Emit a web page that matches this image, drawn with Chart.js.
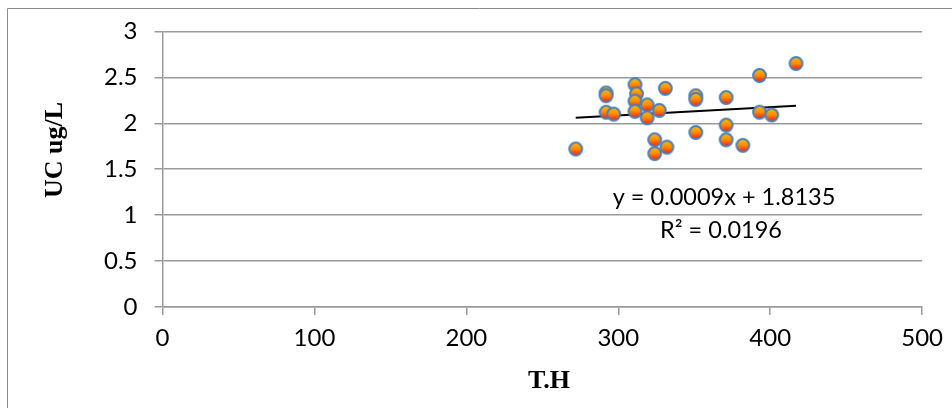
<!DOCTYPE html>
<html>
<head>
<meta charset="utf-8">
<script src="https://cdn.jsdelivr.net/npm/chart.js@4.4.1/dist/chart.umd.min.js"></script>
<style>
  html, body { margin: 0; padding: 0; background: #ffffff; }
  #wrap { width: 952px; height: 408px; position: relative; }
</style>
</head>
<body>
<div id="wrap"><canvas id="c" width="952" height="408"></canvas></div>
<script>
// ---- data ----
const thValues = [272, 292, 292, 292, 297, 311, 312, 311, 311, 319, 319, 324, 324, 327, 331, 332, 351, 351, 351, 371, 371, 371, 382, 393, 393, 401, 417];
const ucValues = [1.72, 2.33, 2.30, 2.12, 2.10, 2.42, 2.32, 2.24, 2.13, 2.20, 2.06, 1.82, 1.67, 2.14, 2.38, 1.74, 2.30, 2.26, 1.90, 2.28, 1.98, 1.82, 1.76, 2.52, 2.12, 2.09, 2.65];
const trendX = [272, 417];
const trendY = [2.06, 2.19];
const xTicks = [0, 100, 200, 300, 400, 500];
const yTicks = [0, 0.5, 1, 1.5, 2, 2.5, 3];
const xTitle = 'T.H';
const yTitle = 'UC ug/L';
const equationText = 'y = 0.0009x + 1.8135';
const r2Text = 'R² = 0.0196';

// marker image (gradient orange/red with blue border)
function makeMarker() {
  const s = 17;
  const cv = document.createElement('canvas');
  cv.width = s; cv.height = s;
  const g = cv.getContext('2d');
  const grad = g.createLinearGradient(0, 2, 0, s - 2);
  grad.addColorStop(0, '#ffc000');
  grad.addColorStop(0.5, '#ff8a00');
  grad.addColorStop(1, '#ff1a00');
  g.beginPath();
  g.arc(s / 2, s / 2, 6.4, 0, Math.PI * 2);
  g.fillStyle = grad;
  g.fill();
  g.lineWidth = 2;
  g.strokeStyle = '#4a7ebb';
  g.stroke();
  return cv;
}
const marker = makeMarker();

const gridColor = '#9a9a9a';

const decorPlugin = {
  id: 'decor',
  afterDraw(chart) {
    const ctx = chart.ctx;
    ctx.save();
    // outer frame
    ctx.strokeStyle = '#8a8a8a';
    ctx.lineWidth = 1;
    ctx.beginPath();
    ctx.moveTo(7.5, 408);
    ctx.lineTo(7.5, 8.5);
    ctx.lineTo(952, 8.5);
    ctx.stroke();
    // equation
    ctx.fillStyle = '#000';
    ctx.font = '23.5px Lato';
    ctx.textAlign = 'center';
    ctx.textBaseline = 'middle';
    ctx.fillText(equationText, 724, 197);
    ctx.fillText(r2Text, 721, 230);
    // axis titles
    ctx.font = 'bold 26px "Liberation Serif"';
    ctx.fillText(xTitle, 549, 381);
    ctx.translate(55, 150);
    ctx.rotate(-Math.PI / 2);
    ctx.fillText(yTitle, 0, 0);
    ctx.restore();
  }
};

new Chart(document.getElementById('c'), {
  type: 'scatter',
  data: {
    datasets: [
      {
        label: 'UC',
        data: thValues.map((x, i) => ({ x: x, y: ucValues[i] })),
        pointStyle: marker,
        pointRadius: 8,
        order: 1
      },
      {
        label: 'trend',
        type: 'line',
        data: trendX.map((x, i) => ({ x: x, y: trendY[i] })),
        borderColor: '#000000',
        borderWidth: 2,
        pointRadius: 0,
        fill: false,
        order: 2
      }
    ]
  },
  options: {
    responsive: false,
    animation: false,
    events: [],
    layout: { padding: { left: 0, top: 30, right: 26, bottom: 0 } },
    plugins: { legend: { display: false }, tooltip: { enabled: false }, title: { display: false } },
    scales: {
      x: {
        type: 'linear',
        min: 0, max: 500,
        afterBuildTicks: (s) => { s.ticks = xTicks.map(v => ({ value: v })); },
        afterFit: (s) => { s.height = 101; },
        grid: { drawOnChartArea: false, drawTicks: true, tickLength: 8, color: gridColor, lineWidth: 1.5 },
        border: { display: true, color: gridColor, width: 1.5 },
        ticks: { color: '#000', font: { family: 'Lato', size: 24 }, padding: 9, maxRotation: 0,
                 callback: (v) => String(v) }
      },
      y: {
        type: 'linear',
        min: 0, max: 3,
        afterBuildTicks: (s) => { s.ticks = yTicks.map(v => ({ value: v })); },
        afterFit: (s) => { s.width = 162.5; },
        grid: { drawOnChartArea: true, drawTicks: true, tickLength: 8, color: gridColor, lineWidth: 1.5 },
        border: { display: true, color: gridColor, width: 1.5 },
        ticks: { color: '#000', font: { family: 'Lato', size: 24 }, padding: 17,
                 callback: (v) => String(v) }
      }
    }
  },
  plugins: [decorPlugin]
});
</script>
</body>
</html>
